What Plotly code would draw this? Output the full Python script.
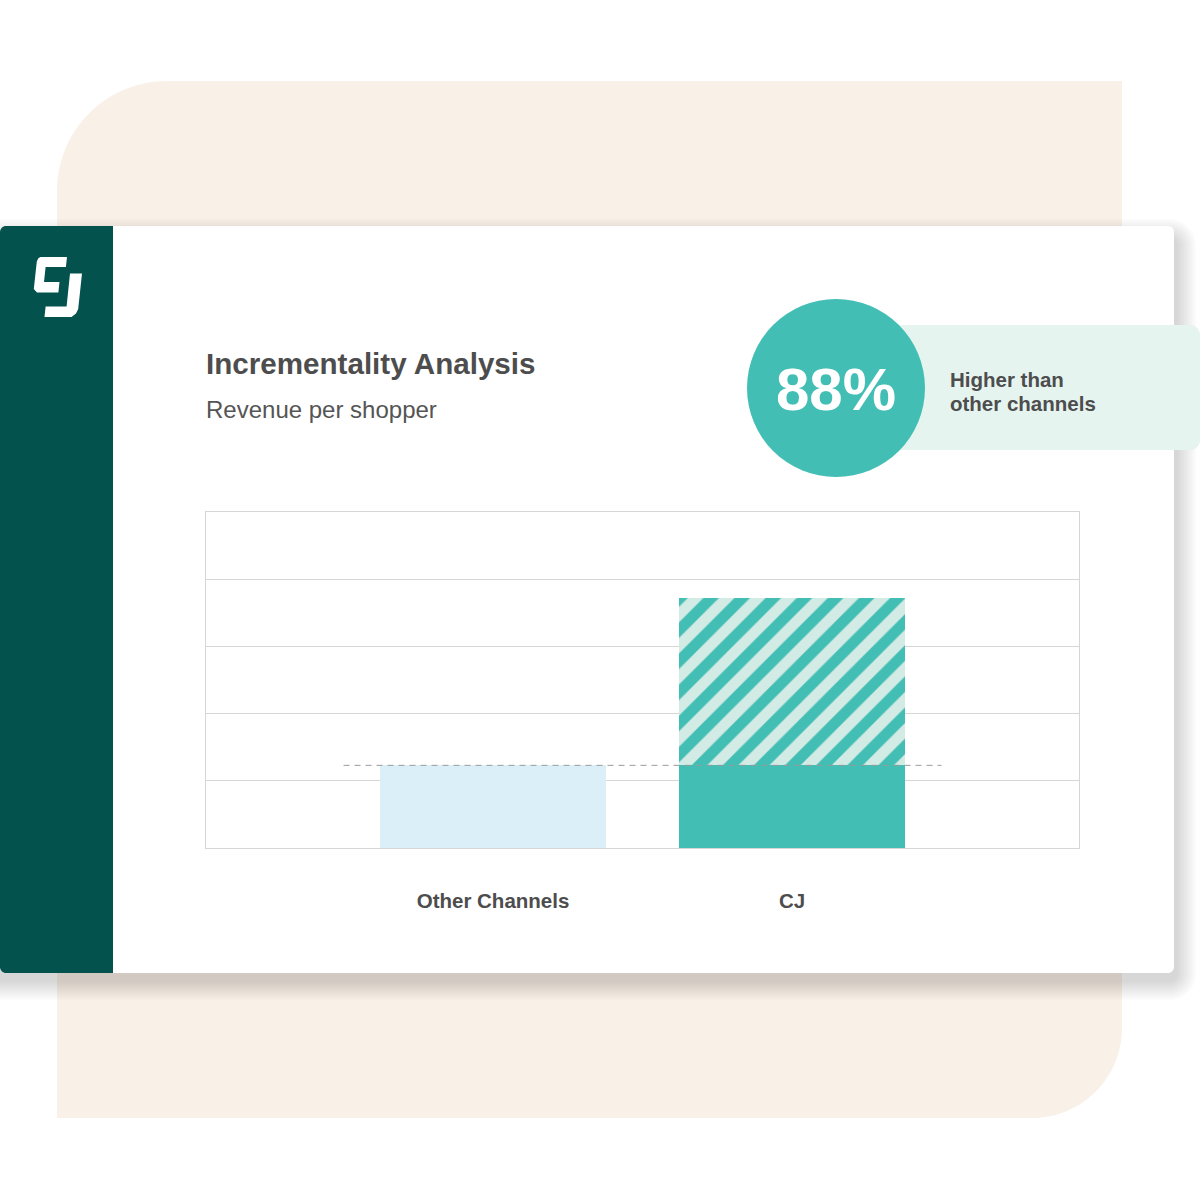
import plotly.graph_objects as go

# ---------------- data ----------------
categories = ["Other Channels", "CJ"]
base_revenue = [1.23, 1.23]          # revenue per shopper matched by other channels
incremental_revenue = [None, 2.49]   # extra revenue per shopper from CJ (hatched)
y_ticks = [0, 1, 2, 3, 4, 5]
headline_value = "88%"
headline_text = ["Higher than", "other channels"]
title_text = "Incrementality Analysis"
subtitle_text = "Revenue per shopper"

# ---------------- helpers ----------------
W = H = 1200
FONT = "Liberation Sans, Arial, Helvetica, sans-serif"
K = 0.5523


def px(x):
    return x / W


def py(y):
    return 1 - y / H


def rrect(x0, y0, x1, y1, tl=0, tr=0, br=0, bl=0):
    """Rounded rectangle path in paper coords (input in pixels, y down)."""
    def P(x, y):
        return f"{px(x):.5f},{py(y):.5f}"
    d = f"M {P(x0 + tl, y0)} L {P(x1 - tr, y0)} "
    if tr:
        d += f"C {P(x1 - tr + tr*K, y0)} {P(x1, y0 + tr - tr*K)} {P(x1, y0 + tr)} "
    d += f"L {P(x1, y1 - br)} "
    if br:
        d += f"C {P(x1, y1 - br + br*K)} {P(x1 - br + br*K, y1)} {P(x1 - br, y1)} "
    d += f"L {P(x0 + bl, y1)} "
    if bl:
        d += f"C {P(x0 + bl - bl*K, y1)} {P(x0, y1 - bl + bl*K)} {P(x0, y1 - bl)} "
    d += f"L {P(x0, y0 + tl)} "
    if tl:
        d += f"C {P(x0, y0 + tl - tl*K)} {P(x0 + tl - tl*K, y0)} {P(x0 + tl, y0)} "
    return d + "Z"


def poly(points):
    return "M " + " L ".join(f"{px(x):.5f},{py(y):.5f}" for x, y in points) + " Z"


TEAL = "#43BEB4"
DARK = "#04524E"
TEXT = "#4D4D4D"

fig = go.Figure()

fig.add_trace(go.Bar(
    x=categories, y=base_revenue, width=0.756,
    marker=dict(color=["#DBEFF8", TEAL], line=dict(width=0)),
    hoverinfo="skip", showlegend=False,
))
fig.add_trace(go.Bar(
    x=categories, y=incremental_revenue, width=0.756,
    marker=dict(color="#D2EBE5", line=dict(width=0),
                pattern=dict(shape="/", bgcolor="#D2EBE5", fgcolor=TEAL,
                             size=22, solidity=0.5, fillmode="replace")),
    hoverinfo="skip", showlegend=False,
))

shapes = []
# beige backdrop
shapes.append(dict(type="path", xref="paper", yref="paper", layer="below",
                   path=rrect(57, 81, 1122, 1118, tl=110, br=90),
                   fillcolor="#F9F0E7", line=dict(width=0)))
# card shadow (soft, mostly right / bottom)
for i in range(10):
    e = 1 + i * 2.0
    shapes.append(dict(type="path", xref="paper", yref="paper", layer="below",
                       path=rrect(0, 226 - e + 12, 1174 + e + 3, 973 + e + 8,
                                  tr=8 + e, br=8 + e),
                       fillcolor="rgba(30,40,50,0.02)", line=dict(width=0)))
# card
shapes.append(dict(type="path", xref="paper", yref="paper", layer="below",
                   path=rrect(0, 226, 1174, 973, tl=6, tr=6, br=6, bl=6),
                   fillcolor="#FFFFFF", line=dict(width=0)))
# sidebar
shapes.append(dict(type="path", xref="paper", yref="paper", layer="below",
                   path=rrect(0, 226, 113, 973, tl=6, bl=6),
                   fillcolor=DARK, line=dict(width=0)))
# logo C and J
shapes.append(dict(type="path", xref="paper", yref="paper", layer="below",
                   path=poly([(40.5, 257), (67, 257), (65.9, 267), (45.6, 267),
                              (44, 282), (59.5, 282), (58.4, 292.5), (37, 292.5),
                              (33.8, 289), (36.8, 261.5), (38.3, 258.2)]),
                   fillcolor="#FFFFFF", line=dict(width=0)))
shapes.append(dict(type="path", xref="paper", yref="paper", layer="below",
                   path=poly([(70, 273.5), (82, 273.5), (78.2, 309), (76, 313.5),
                              (71.5, 317), (44.5, 317), (45.6, 306.5), (66.6, 306.5)]),
                   fillcolor="#FFFFFF", line=dict(width=0)))
# badge
shapes.append(dict(type="path", xref="paper", yref="paper", layer="below",
                   path=rrect(880, 325, 1200, 450, tr=10, br=10),
                   fillcolor="#E6F4F0", line=dict(width=0)))
shapes.append(dict(type="circle", xref="paper", yref="paper", layer="below",
                   x0=px(836 - 89), x1=px(836 + 89), y0=py(388 + 89), y1=py(388 - 89),
                   fillcolor=TEAL, line=dict(width=0)))
# dashed reference line at the other-channels level
shapes.append(dict(type="line", xref="x", yref="y", layer="above",
                   x0=-0.5, x1=1.5, y0=base_revenue[0], y1=base_revenue[0],
                   line=dict(color="#9A9A9A", width=1, dash="6px,5px")))

annotations = [
    dict(text=f"<b>{title_text}</b>", x=px(204), y=py(363), xanchor="left", yanchor="middle",
         font=dict(family=FONT, size=29.6, color=TEXT)),
    dict(text=subtitle_text, x=px(204), y=py(409), xanchor="left", yanchor="middle",
         font=dict(family=FONT, size=24, color="#555555")),
    dict(text=f"<b>{headline_value}</b>", x=px(836), y=py(390), xanchor="center", yanchor="middle",
         font=dict(family=FONT, size=60, color="#FFFFFF")),
    dict(text=f"<b>{headline_text[0]}</b>", x=px(948), y=py(379), xanchor="left", yanchor="middle",
         font=dict(family=FONT, size=20.5, color=TEXT)),
    dict(text=f"<b>{headline_text[1]}</b>", x=px(948), y=py(403), xanchor="left", yanchor="middle",
         font=dict(family=FONT, size=20.5, color=TEXT)),
]
for a in annotations:
    a.update(xref="paper", yref="paper", showarrow=False)

fig.update_layout(
    width=W, height=H, margin=dict(l=0, r=0, t=0, b=0),
    paper_bgcolor="#FFFFFF", plot_bgcolor="rgba(0,0,0,0)",
    barmode="stack", bargap=0, showlegend=False,
    shapes=shapes, annotations=annotations,
    xaxis=dict(domain=[px(206), px(1079)], range=[-0.96, 1.96], type="category",
               showgrid=False, zeroline=False, showline=True, mirror=True,
               linecolor="#D6D6D6", linewidth=1, ticks="", ticklabelstandoff=34,
               tickfont=dict(family=FONT, size=20.5, color=TEXT, weight="bold"),
               fixedrange=True),
    yaxis=dict(domain=[py(848), py(512)], range=[0, 5], tickvals=y_ticks,
               showgrid=True, gridcolor="#D6D6D6", gridwidth=1, zeroline=False,
               showline=True, mirror=True, linecolor="#D6D6D6", linewidth=1,
               showticklabels=False, ticks="", fixedrange=True),
)

fig.write_html("out.html", config={"displayModeBar": False})
